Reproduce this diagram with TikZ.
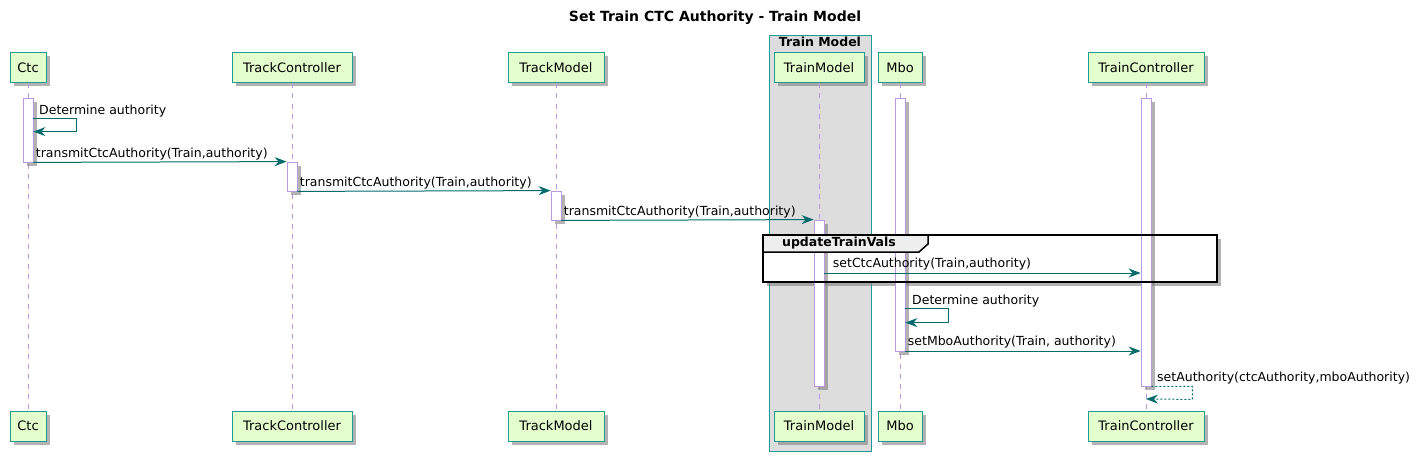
\documentclass[tikz,border=0pt]{standalone}
\usepackage{fontspec}
\setmainfont{DejaVu Sans}
\usepackage{tikz}
\usetikzlibrary{arrows.meta,positioning,shadows}

\definecolor{umlgreen}{HTML}{E4FDCD}
\definecolor{umlteal}{HTML}{1C9C94}
\definecolor{msgteal}{HTML}{006B6B}
\definecolor{lifecol}{HTML}{BB99DD}
\definecolor{grpgray}{HTML}{DDDDDD}
\definecolor{tabgray}{HTML}{EEEEEE}

\tikzset{
  umlshadow/.style={drop shadow={shadow xshift=3.5pt,shadow yshift=-3.5pt,fill=black!50,opacity=.6}},
  partbox/.style={draw=umlteal,fill=umlgreen,line width=1pt,minimum height=30pt,inner sep=0pt,
    font=\fontsize{13}{15}\selectfont,umlshadow},
  lifeline/.style={draw=lifecol,line width=.8pt,dash pattern=on 5pt off 5pt},
  actbar/.style={draw=lifecol,fill=white,line width=.8pt,minimum width=10pt,inner sep=0pt,umlshadow},
  msg/.style={draw=msgteal,line width=1pt,-{Stealth[length=12pt,width=9pt,inset=4pt]}},
  retmsg/.style={msg,dash pattern=on 2pt off 2pt},
  msglabel/.style={font=\fontsize{12.5}{14}\selectfont,inner sep=1pt,anchor=south west}
}

\begin{document}
\begin{tikzpicture}[x=1pt,y=-1pt]
      \useasboundingbox (0,0) rectangle (1425,460);
      \draw[draw=umlteal,fill=grpgray,line width=.8pt] (769,35) rectangle (871,451);
      \node[font=\bfseries\fontsize{14}{16}\selectfont] (title) at (715,18) {Set Train CTC Authority - Train Model};
      \node[font=\bfseries\fontsize{12.5}{14}\selectfont] (boxtitle) at (820,42) {Train Model};
      \fill[white,umlshadow] (763,235) rectangle (1217,282);

      \node[partbox,minimum width=36pt] (ctc) at (28,68) {Ctc};
      \node[partbox,minimum width=120pt] (tc) at (292,68) {TrackController};
      \node[partbox,minimum width=96pt] (tm) at (556,68) {TrackModel};
      \node[partbox,minimum width=90pt] (trm) at (819,68) {TrainModel};
      \node[partbox,minimum width=44pt] (mbo) at (900,68) {Mbo};
      \node[partbox,minimum width=116pt] (trc) at (1146,68) {TrainController};
      \node[partbox,minimum width=36pt] (ctcB) at (28,426) {Ctc};
      \node[partbox,minimum width=120pt] (tcB) at (292,426) {TrackController};
      \node[partbox,minimum width=96pt] (tmB) at (556,426) {TrackModel};
      \node[partbox,minimum width=90pt] (trmB) at (819,426) {TrainModel};
      \node[partbox,minimum width=44pt] (mboB) at (900,426) {Mbo};
      \node[partbox,minimum width=116pt] (trcB) at (1146,426) {TrainController};
      \foreach \p in {ctc,tc,tm,trm,mbo,trc}
        \draw[lifeline] (\p) -- (\p B);

      \node[actbar,minimum height=64pt] (ctcAct) at (28,130) {};
      \node[actbar,minimum height=29pt] (tcAct) at (292,176.5) {};
      \node[actbar,minimum height=29pt] (tmAct) at (556,205.5) {};
      \node[actbar,minimum height=166pt] (trmAct) at (819,303) {};
      \node[actbar,minimum height=253pt] (mboAct) at (900,224.5) {};
      \node[actbar,minimum height=288pt] (trcAct) at (1146,242) {};

      \draw[line width=2pt] (763,235) rectangle (1217,282);
      \draw[line width=1.5pt,fill=tabgray] (763,235) -- (928,235) -- (928,244) -- (919,252) -- (763,252) -- cycle;
      \node[font=\bfseries\fontsize{12.5}{14}\selectfont] (grplabel) at (839,243.5) {updateTrainVals};

      \coordinate (setctc) at (0,273);
      \coordinate (setmbo) at (0,351);
      \draw[msg] (ctcAct.north east) ++(0,21) -- ++(43,0) -- ++(0,13) -- ++(-43,0);
      \node[msglabel] (det1) at (38,118) {Determine authority};
      \draw[msg] (ctcAct.south east) -- (tcAct.north west) node[msglabel,pos=0,xshift=1pt,yshift=1pt] {transmitCtcAuthority(Train,authority)};
      \draw[msg] (tcAct.south east) -- (tmAct.north west) node[msglabel,pos=0,xshift=1pt,yshift=1pt] {transmitCtcAuthority(Train,authority)};
      \draw[msg] (tmAct.south east) -- (trmAct.north west) node[msglabel,pos=0,xshift=1pt,yshift=1pt] {transmitCtcAuthority(Train,authority)};
      \draw[msg] (trmAct.east |- setctc) -- (trcAct.west |- setctc) node[msglabel,pos=0,xshift=7pt,yshift=1pt] {setCtcAuthority(Train,authority)};
      \draw[msg] (mboAct.north east) ++(0,211) -- ++(43,0) -- ++(0,14) -- ++(-43,0);
      \node[msglabel] (det2) at (911,308) {Determine authority};
      \draw[msg] (mboAct.east |- setmbo) -- (trcAct.west |- setmbo) node[msglabel,pos=0,xshift=1pt,yshift=1pt] {setMboAuthority(Train, authority)};
      \draw[retmsg] (trcAct.south east) -- ++(41,0) -- ++(0,13) -- (trcB.north |- 0,399);
      \node[msglabel] (setauth) at (1156,385) {setAuthority(ctcAuthority,mboAuthority)};
    \end{tikzpicture}
\end{document}
